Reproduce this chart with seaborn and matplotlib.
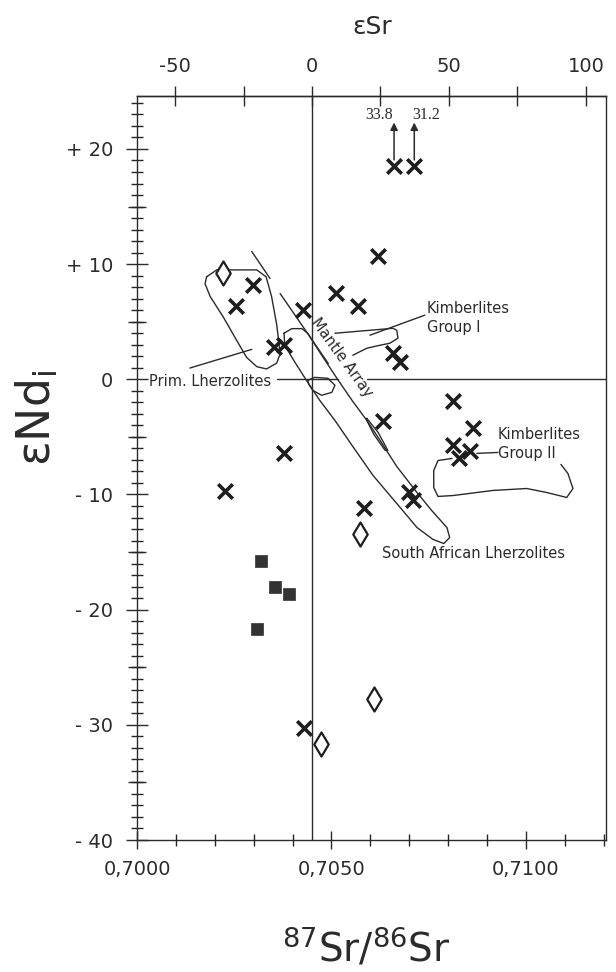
import numpy as np
import matplotlib
matplotlib.use("Agg")
import matplotlib.pyplot as plt
import seaborn as sns
from matplotlib.ticker import FixedLocator, NullLocator

# ---------------- data ----------------
SR_BULK = 0.7045

cross_sr = [0.70661, 0.70713, 0.70620, 0.70512, 0.70568, 0.70427, 0.70298, 0.70254,
            0.70352, 0.70378, 0.70658, 0.70676, 0.70632, 0.70378, 0.70226, 0.70699,
            0.70710, 0.70584, 0.70812, 0.70864, 0.70812, 0.70856, 0.70828, 0.70429]
cross_nd = [18.5, 18.5, 10.7, 7.5, 6.4, 6.0, 8.2, 6.4,
            2.8, 3.0, 2.3, 1.5, -3.6, -6.4, -9.7, -9.8,
            -10.5, -11.2, -1.9, -4.2, -5.7, -6.2, -6.8, -30.3]

diamond_sr = [0.70221, 0.70573, 0.70609, 0.70473]
diamond_nd = [9.2, -13.4, -27.8, -31.7]

square_sr = [0.70319, 0.70355, 0.70391, 0.70308]
square_nd = [-15.8, -18.0, -18.6, -21.7]

offscale_sr = [0.70661, 0.70713]
offscale_nd = [18.5, 18.5]
offscale_labels = ["33.8", "31.2"]
offscale_label_sr = [0.70622, 0.70743]

# field outlines
prim_sr = [0.70179, 0.70205, 0.70247, 0.70308, 0.70332, 0.70346, 0.70359, 0.70363, 0.70368,
           0.70359, 0.70333, 0.70308, 0.70282, 0.70256, 0.70222, 0.70188, 0.70175]
prim_nd = [8.9, 9.5, 9.5, 9.5, 8.9, 7.2, 4.8, 3.7, 2.2,
           1.4, 0.9, 1.1, 1.9, 3.4, 5.4, 7.2, 8.3]

saf_sr = [0.70378, 0.70398, 0.70424, 0.70439, 0.70470, 0.70514, 0.70553, 0.70591, 0.70625,
          0.70668, 0.70720, 0.70758, 0.70797, 0.70804, 0.70789, 0.70761, 0.70720, 0.70668,
          0.70607, 0.70553, 0.70509, 0.70470, 0.70439, 0.70406, 0.70380]
saf_nd = [4.0, 4.4, 4.4, 4.0, 2.35, 0.09, -1.83, -3.57, -5.3,
          -7.57, -9.83, -11.4, -12.87, -13.74, -14.26, -13.9, -12.87, -10.78,
          -8.35, -5.74, -3.57, -1.83, -0.26, 1.48, 2.96]

sliver_sr = [0.70591, 0.70620, 0.70645, 0.70638, 0.70609, 0.70591]
sliver_nd = [-3.39, -4.61, -6.17, -6.17, -4.78, -3.57]

loop_sr = [0.70439, 0.70457, 0.70491, 0.70509, 0.70501, 0.70475, 0.70452, 0.70442]
loop_nd = [-0.09, 0.17, 0.09, -0.52, -1.13, -1.39, -0.96, -0.43]

kim1_sr = [0.70509, 0.70658, 0.70668, 0.70671, 0.70650, 0.70625, 0.70591, 0.70555]
kim1_nd = [4.0, 4.43, 4.26, 3.57, 3.13, 2.96, 2.70, 2.09]

kim2_sr = [0.70810, 0.70774, 0.70763, 0.70763, 0.70774, 0.70813, 0.70915, 0.71002, 0.71054,
           0.71105, 0.71121, 0.71108, 0.71090]
kim2_nd = [-6.87, -7.05, -7.92, -9.39, -10.17, -10.09, -9.65, -9.48, -9.83,
           -10.26, -9.48, -8.17, -7.39]

mantle_sr = [[0.70295, 0.70342], [0.70368, 0.70492]]
mantle_nd = [[11.1, 8.76], [7.45, 1.37]]

leaders = {
    "prim": ([0.70136, 0.70295], [0.98, 2.6]),
    "kim1": ([0.70599, 0.70740], [3.83, 5.57]),
    "kim2": ([0.70874, 0.70928], [-6.43, -6.35]),
}

zero_line_sr = [[0.70360, 0.70517], [0.70591, 0.71206]]

y_ticks = [-40, -30, -20, -10, 0, 10, 20]
y_ticklabels = ["- 40", "- 30", "- 20", "- 10", "0", "+ 10", "+ 20"]
x_ticks = [0.7000, 0.7050, 0.7100]
x_ticklabels = ["0,7000", "0,7050", "0,7100"]
esr_ticks = [-50, 0, 50, 100]
esr_minor = [-25, 25, 75]

# ---------------- style ----------------
sns.set_style("ticks")
plt.rcParams["font.family"] = ["DejaVu Sans"]
plt.rcParams["axes.linewidth"] = 1.0
INK = "#2b2b2b"

fig = plt.figure(figsize=(6.16, 9.72), dpi=100)
ax = fig.add_axes([137 / 616, 1 - 840 / 972, (606 - 137) / 616, (840 - 96) / 972])
ax.set_xlim(0.7000, 0.71206)
ax.set_ylim(-40, 24.6)
for s in ax.spines.values():
    s.set_color(INK)

# reference lines
ax.axvline(SR_BULK, color=INK, lw=1.0, zorder=1)
for seg in zero_line_sr:
    ax.plot(seg, [0, 0], color=INK, lw=1.0, zorder=1)

def closed(a):
    return list(a) + [a[0]]

lkw = dict(color=INK, lw=1.0, zorder=2)
ax.plot(closed(prim_sr), closed(prim_nd), **lkw)
ax.plot(closed(saf_sr), closed(saf_nd), **lkw)
ax.plot(closed(sliver_sr), closed(sliver_nd), **lkw)
ax.plot(closed(loop_sr), closed(loop_nd), **lkw)
ax.plot(kim1_sr, kim1_nd, **lkw)
ax.plot(kim2_sr, kim2_nd, **lkw)
for xs, ys in zip(mantle_sr, mantle_nd):
    ax.plot(xs, ys, **lkw)
for xs, ys in leaders.values():
    ax.plot(xs, ys, **lkw)

# markers
sns.scatterplot(x=cross_sr, y=cross_nd, marker="x", s=110, color="#1e1e1e",
                linewidth=2.6, ax=ax, zorder=4)
sns.scatterplot(x=diamond_sr, y=diamond_nd, marker="d", s=150, facecolor="white",
                edgecolor="#1e1e1e", linewidth=1.6, ax=ax, zorder=4)
sns.scatterplot(x=square_sr, y=square_nd, marker="s", s=75, color="#333333",
                edgecolor="#333333", linewidth=0.5, ax=ax, zorder=4)

# off-scale arrows
for xs, ys, lab, lx in zip(offscale_sr, offscale_nd, offscale_labels, offscale_label_sr):
    ax.annotate("", xy=(xs, 22.3), xytext=(xs, ys + 0.55),
                arrowprops=dict(arrowstyle="-|>", color=INK, lw=1.1,
                                mutation_scale=11, shrinkA=0, shrinkB=0), zorder=3)
    ax.text(lx, 22.95, lab, ha="center", va="center", fontsize=11.5,
            family="Liberation Serif", color=INK)

# labels
tk = dict(fontsize=10.5, color=INK)
ax.text(0.70344, -0.2, "Prim. Lherzolites", ha="right", va="center", **tk)
ax.text(0.70745, 5.35, "Kimberlites\nGroup I", ha="left", va="center", linespacing=1.3, **tk)
ax.text(0.70928, -5.6, "Kimberlites\nGroup II", ha="left", va="center", linespacing=1.3, **tk)
ax.text(0.70630, -15.13, "South African Lherzolites", ha="left", va="center", **tk)
ax.text(0.70526, 1.9, "Mantle Array", ha="center", va="center", rotation=-54,
        rotation_mode="anchor", **tk)

# axes ticks
ax.set_xticks(x_ticks)
ax.set_xticklabels(x_ticklabels)
ax.xaxis.set_minor_locator(FixedLocator(np.round(np.arange(0.7010, 0.7121, 0.001), 4)))
ax.set_yticks(y_ticks)
ax.set_yticklabels(y_ticklabels)
ax.yaxis.set_minor_locator(FixedLocator(np.arange(-40, 25, 1)))
ax.tick_params(axis="x", which="major", direction="inout", length=13.5, width=1.0,
               pad=8, labelsize=14, colors=INK, top=False)
ax.tick_params(axis="x", which="minor", direction="inout", length=8.5, width=1.0,
               top=False)
ax.tick_params(axis="y", which="major", direction="inout", length=16, width=1.0,
               pad=9, labelsize=14, colors=INK, right=False)
ax.tick_params(axis="y", which="minor", direction="inout", length=8.5, width=1.0,
               right=False)

# medium ticks at the 5s
sec_y = ax.secondary_yaxis("left")
sec_y.set_yticks([-35, -25, -15, -5, 5, 15])
sec_y.set_yticklabels([])
sec_y.yaxis.set_minor_locator(NullLocator())
sec_y.tick_params(direction="inout", length=12.5, width=1.0, colors=INK)
for s in sec_y.spines.values():
    s.set_visible(False)

# top eps-Sr axis
def to_esr(r):
    return (np.asarray(r) / SR_BULK - 1.0) * 1e4

def from_esr(e):
    return SR_BULK * (1.0 + np.asarray(e) / 1e4)

sec_x = ax.secondary_xaxis("top", functions=(to_esr, from_esr))
sec_x.set_xticks(esr_ticks)
sec_x.set_xticklabels([str(v) for v in esr_ticks])
sec_x.xaxis.set_minor_locator(FixedLocator(esr_minor))
sec_x.tick_params(which="both", direction="inout", length=14.5, width=1.0,
                  pad=7, labelsize=14, colors=INK)
for s in sec_x.spines.values():
    s.set_color(INK)

# axis titles
fig.text(372 / 616, 1 - 34 / 972, "εSr", ha="center", va="baseline", fontsize=18, color=INK)
fig.text(366 / 616, 1 - 961 / 972, r"$^{87}$Sr/$^{86}$Sr", ha="center", va="baseline",
         fontsize=28, color=INK)
fig.text(37 / 616, 1 - 466 / 972, r"εNd$_{\mathrm{i}}$", ha="center", va="bottom",
         rotation=90, fontsize=33, color=INK)

fig.savefig("out.png", dpi=100)
